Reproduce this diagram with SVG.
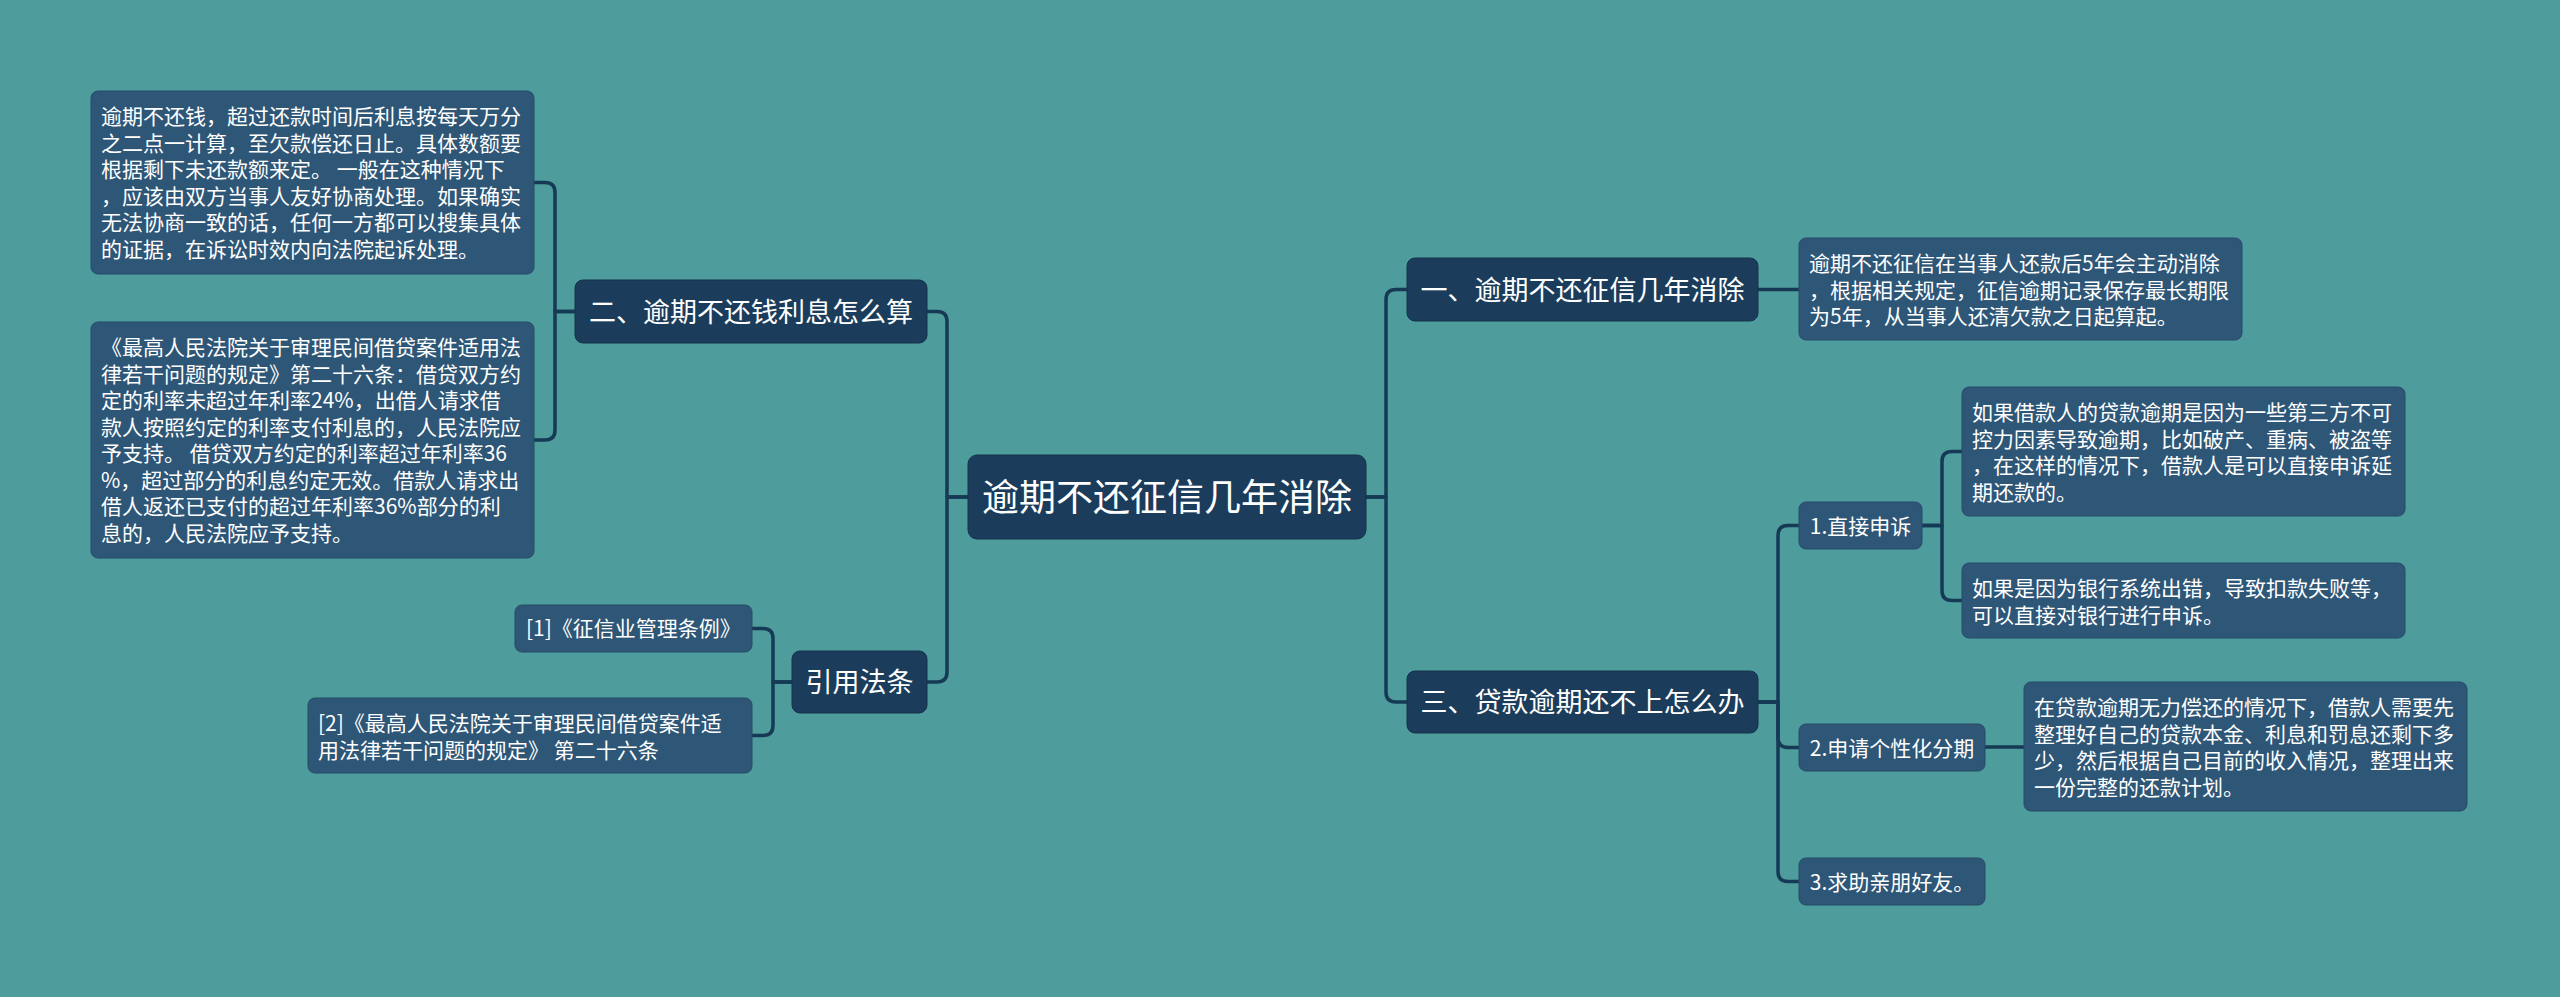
<svg xmlns="http://www.w3.org/2000/svg" width="2560" height="997" viewBox="0 0 2560 997">
<style>
.bg{fill:#4E9C9B}
.main{fill:#1B3D5B;stroke:#15324C;stroke-width:1}
.l1{fill:#1B3D5B;stroke:#15324C;stroke-width:1}
.leaf{fill:#2E5677;stroke:#264B69;stroke-width:1}
text{font-family:"Noto Sans CJK SC","Liberation Sans",sans-serif;fill:#FFFFFF}
.tmain{font-size:37px;text-anchor:middle}
.tl1{font-size:27px;text-anchor:middle}
.tl2{font-size:21px;text-anchor:middle}
.tleaf{font-size:21px}
.conn path{fill:none;stroke:#163A55;stroke-width:3.5;stroke-linejoin:round}
</style>
<rect class="bg" x="0" y="0" width="2560" height="997"/>
<g class="conn" id="connectors">
<path d="M968,497 H947 V321.5 Q947,311.5 937,311.5 H927"/>
<path d="M968,497 H947 V672 Q947,682 937,682 H927"/>
<path d="M575,311.5 H555 V192.5 Q555,182.5 545,182.5 H534"/>
<path d="M575,311.5 H555 V430 Q555,440 545,440 H534"/>
<path d="M792,682 H773 V638.5 Q773,628.5 763,628.5 H752"/>
<path d="M792,682 H773 V725.5 Q773,735.5 763,735.5 H752"/>
<path d="M1365,497 H1386 V299.5 Q1386,289.5 1396,289.5 H1407"/>
<path d="M1365,497 H1386 V692 Q1386,702 1396,702 H1407"/>
<path d="M1758,289.5 H1799"/>
<path d="M1758,702 H1778 V535.5 Q1778,525.5 1788,525.5 H1799"/>
<path d="M1758,702 H1778 V737.5 Q1778,747.5 1788,747.5 H1799"/>
<path d="M1758,702 H1778 V871.5 Q1778,881.5 1788,881.5 H1799"/>
<path d="M1922,525.5 H1942 V461.5 Q1942,451.5 1952,451.5 H1962"/>
<path d="M1922,525.5 H1942 V590.5 Q1942,600.5 1952,600.5 H1962"/>
<path d="M1985,747 H2024"/>
</g>
<g id="main">
<rect class="main" x="968" y="455" width="398" height="84" rx="9"/>
<text class="tmain" x="1167" y="511">逾期不还征信几年消除</text>
</g>
<g id="n-lixi">
<rect class="l1" x="575" y="280" width="352" height="63" rx="8"/>
<text class="tl1" x="751" y="322">二、逾期不还钱利息怎么算</text>
</g>
<g id="leaf-lixi-1">
<rect class="leaf" x="91" y="91" width="443" height="183" rx="7"/>
<text class="tleaf" x="101" y="124"><tspan x="101">逾期不还钱，超过还款时间后利息按每天万分</tspan><tspan x="101" dy="26.5">之二点一计算，至欠款偿还日止。具体数额要</tspan><tspan x="101" dy="26.5">根据剩下未还款额来定。 一般在这种情况下</tspan><tspan x="101" dy="26.5">，应该由双方当事人友好协商处理。如果确实</tspan><tspan x="101" dy="26.5">无法协商一致的话，任何一方都可以搜集具体</tspan><tspan x="101" dy="26.5">的证据，在诉讼时效内向法院起诉处理。</tspan></text>
</g>
<g id="leaf-lixi-2">
<rect class="leaf" x="91" y="322" width="443" height="236" rx="7"/>
<text class="tleaf" x="101" y="355"><tspan x="101">《最高人民法院关于审理民间借贷案件适用法</tspan><tspan x="101" dy="26.5">律若干问题的规定》第二十六条：借贷双方约</tspan><tspan x="101" dy="26.5">定的利率未超过年利率24%，出借人请求借</tspan><tspan x="101" dy="26.5">款人按照约定的利率支付利息的，人民法院应</tspan><tspan x="101" dy="26.5">予支持。 借贷双方约定的利率超过年利率36</tspan><tspan x="101" dy="26.5">%，超过部分的利息约定无效。借款人请求出</tspan><tspan x="101" dy="26.5">借人返还已支付的超过年利率36%部分的利</tspan><tspan x="101" dy="26.5">息的，人民法院应予支持。</tspan></text>
</g>
<g id="n-yinyong">
<rect class="l1" x="792" y="651" width="135" height="62" rx="8"/>
<text class="tl1" x="859.5" y="692">引用法条</text>
</g>
<g id="cite-1">
<rect class="leaf" x="515" y="605" width="237" height="47" rx="7"/>
<text class="tleaf" x="526" y="636">[1]《征信业管理条例》</text>
</g>
<g id="cite-2">
<rect class="leaf" x="308" y="698" width="444" height="75" rx="7"/>
<text class="tleaf" x="318" y="731"><tspan x="318">[2]《最高人民法院关于审理民间借贷案件适</tspan><tspan x="318" dy="26.5">用法律若干问题的规定》 第二十六条</tspan></text>
</g>
<g id="n-xiaochu">
<rect class="l1" x="1407" y="258" width="351" height="63" rx="8"/>
<text class="tl1" x="1582.5" y="300">一、逾期不还征信几年消除</text>
</g>
<g id="leaf-xiaochu">
<rect class="leaf" x="1799" y="238" width="443" height="102" rx="7"/>
<text class="tleaf" x="1809" y="271"><tspan x="1809">逾期不还征信在当事人还款后5年会主动消除</tspan><tspan x="1809" dy="26.5">，根据相关规定，征信逾期记录保存最长期限</tspan><tspan x="1809" dy="26.5">为5年，从当事人还清欠款之日起算起。</tspan></text>
</g>
<g id="n-zenmeban">
<rect class="l1" x="1407" y="671" width="351" height="62" rx="8"/>
<text class="tl1" x="1582.5" y="712">三、贷款逾期还不上怎么办</text>
</g>
<g id="n-shensu">
<rect class="leaf" x="1799" y="502" width="123" height="47" rx="7"/>
<text class="tl2" x="1860.5" y="533.5">1.直接申诉</text>
</g>
<g id="leaf-shensu-1">
<rect class="leaf" x="1962" y="387" width="443" height="129" rx="7"/>
<text class="tleaf" x="1972" y="420"><tspan x="1972">如果借款人的贷款逾期是因为一些第三方不可</tspan><tspan x="1972" dy="26.5">控力因素导致逾期，比如破产、重病、被盗等</tspan><tspan x="1972" dy="26.5">，在这样的情况下，借款人是可以直接申诉延</tspan><tspan x="1972" dy="26.5">期还款的。</tspan></text>
</g>
<g id="leaf-shensu-2">
<rect class="leaf" x="1962" y="563" width="443" height="75" rx="7"/>
<text class="tleaf" x="1972" y="596"><tspan x="1972">如果是因为银行系统出错，导致扣款失败等，</tspan><tspan x="1972" dy="26.5">可以直接对银行进行申诉。</tspan></text>
</g>
<g id="n-fenqi">
<rect class="leaf" x="1799" y="724" width="186" height="47" rx="7"/>
<text class="tl2" x="1892" y="755.5">2.申请个性化分期</text>
</g>
<g id="leaf-fenqi">
<rect class="leaf" x="2024" y="682" width="443" height="129" rx="7"/>
<text class="tleaf" x="2034" y="715"><tspan x="2034">在贷款逾期无力偿还的情况下，借款人需要先</tspan><tspan x="2034" dy="26.5">整理好自己的贷款本金、利息和罚息还剩下多</tspan><tspan x="2034" dy="26.5">少，然后根据自己目前的收入情况，整理出来</tspan><tspan x="2034" dy="26.5">一份完整的还款计划。</tspan></text>
</g>
<g id="n-qinpeng">
<rect class="leaf" x="1799" y="858" width="186" height="47" rx="7"/>
<text class="tl2" x="1892" y="889.5">3.求助亲朋好友。</text>
</g>
</svg>
